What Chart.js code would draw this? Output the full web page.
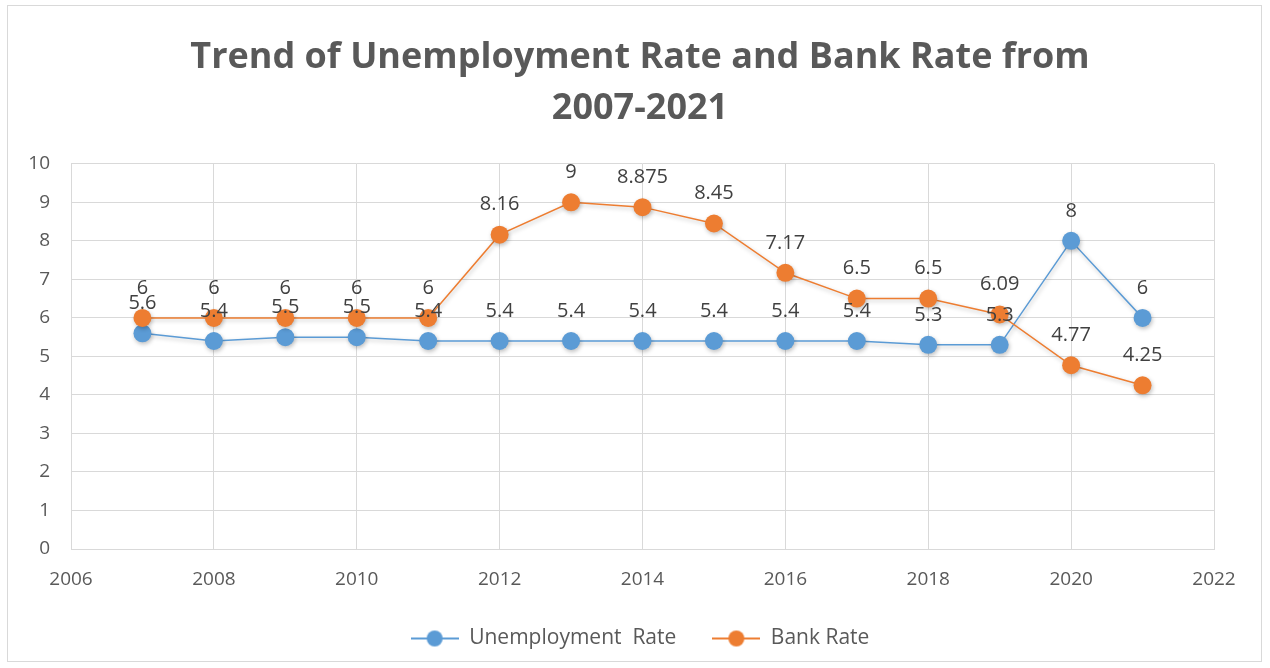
<!DOCTYPE html>
<html>
<head>
<meta charset="utf-8">
<script src="https://cdn.jsdelivr.net/npm/chart.js@4.4.1/dist/chart.umd.min.js"></script>
<style>
  html, body { margin: 0; padding: 0; background: #ffffff; }
  #wrap { position: absolute; left: 7px; top: 5px; width: 1255px; height: 657px; border: 1px solid #d9d9d9; box-sizing: border-box; }
  #chart { position: absolute; left: 0; top: 0; }
</style>
</head>
<body>
<div id="wrap"></div>
<canvas id="chart" width="1270" height="668"></canvas>
<script>
// Chart data
const years = [2007, 2008, 2009, 2010, 2011, 2012, 2013, 2014, 2015, 2016, 2017, 2018, 2019, 2020, 2021];
const unemploymentRate = [5.6, 5.4, 5.5, 5.5, 5.4, 5.4, 5.4, 5.4, 5.4, 5.4, 5.4, 5.3, 5.3, 8, 6];
const bankRate = [6, 6, 6, 6, 6, 8.16, 9, 8.875, 8.45, 7.17, 6.5, 6.5, 6.09, 4.77, 4.25];
const seriesNames = ['Unemployment  Rate', 'Bank Rate'];
const titleLines = ['Trend of Unemployment Rate and Bank Rate from', '2007-2021'];

const BLUE = '#5b9bd5';
const ORANGE = '#ed7d31';
const FONT = "'Open Sans', 'Liberation Sans', sans-serif";

// little legend swatch: line with a dot in the middle
function legendSwatch(color) {
    const c = document.createElement('canvas');
    c.width = 48; c.height = 20;
    const g = c.getContext('2d');
    g.strokeStyle = color; g.lineWidth = 2;
    g.beginPath(); g.moveTo(0, 10); g.lineTo(48, 10); g.stroke();
    g.fillStyle = color;
    g.beginPath(); g.arc(24, 10, 8, 0, Math.PI * 2); g.fill();
    return c;
}

// value labels above each marker (Excel style)
const valueLabels = {
    id: 'valueLabels',
    afterDatasetsDraw(chart) {
        const ctx = chart.ctx;
        ctx.save();
        ctx.font = '20px ' + FONT;
        ctx.fillStyle = '#404040';
        ctx.textAlign = 'center';
        ctx.textBaseline = 'middle';
        chart.data.datasets.forEach((ds, i) => {
            chart.getDatasetMeta(i).data.forEach((pt, j) => {
                ctx.fillText(String(ds.data[j].y), pt.x, pt.y - 30);
            });
        });
        ctx.restore();
    }
};

// soft shadow under lines and markers
const softShadow = {
    id: 'softShadow',
    beforeDatasetDraw(chart) {
        const ctx = chart.ctx;
        ctx.save();
        ctx.shadowColor = 'rgba(0,0,0,0.25)';
        ctx.shadowBlur = 4;
        ctx.shadowOffsetX = 1;
        ctx.shadowOffsetY = 2;
    },
    afterDatasetDraw(chart) {
        chart.ctx.restore();
    }
};

const toPoints = arr => arr.map((v, i) => ({ x: years[i], y: v }));

new Chart(document.getElementById('chart'), {
    type: 'line',
    data: {
        datasets: [
            { label: seriesNames[0], data: toPoints(unemploymentRate), borderColor: BLUE, backgroundColor: BLUE, borderWidth: 1.5, pointRadius: 9, pointBorderWidth: 0, pointBackgroundColor: BLUE, order: 2, swatch: legendSwatch(BLUE) },
            { label: seriesNames[1], data: toPoints(bankRate), borderColor: ORANGE, backgroundColor: ORANGE, borderWidth: 1.5, pointRadius: 9, pointBorderWidth: 0, pointBackgroundColor: ORANGE, order: 1, swatch: legendSwatch(ORANGE) }
        ]
    },
    options: {
        responsive: false,
        animation: false,
        layout: { padding: { left: 10, right: 0, top: 0, bottom: 9 } },
        scales: {
            x: {
                type: 'linear', min: 2006, max: 2022,
                ticks: { stepSize: 2, color: '#595959', font: { family: FONT, size: 19 }, padding: 19, callback: v => String(v) },
                grid: { color: '#d9d9d9', drawTicks: false },
                border: { color: '#d9d9d9' },
                afterFit: s => { s.height = 43; }
            },
            y: {
                min: 0, max: 10,
                ticks: { stepSize: 1, color: '#595959', font: { family: FONT, size: 19 }, padding: 21 },
                grid: { color: '#d9d9d9', drawTicks: false },
                border: { display: false },
                afterFit: s => { s.width = 61; }
            },
            // empty right-hand axis only to keep the plot's right edge where it is
            yRight: {
                position: 'right', min: 0, max: 10,
                ticks: { display: false },
                grid: { display: false },
                border: { display: false },
                afterFit: s => { s.width = 56; }
            }
        },
        plugins: {
            title: {
                display: true,
                text: titleLines,
                color: '#595959',
                font: { family: FONT, size: 36, weight: 'bold', lineHeight: 1.4 },
                padding: { top: 33, bottom: 30 }
            },
            legend: {
                position: 'bottom',
                labels: {
                    usePointStyle: true,
                    pointStyleWidth: 48,
                    color: '#595959',
                    font: { family: FONT, size: 21 },
                    padding: 36,
                    generateLabels: chart => chart.data.datasets.map((ds, i) => ({
                        text: ds.label, pointStyle: ds.swatch, fillStyle: ds.borderColor, strokeStyle: ds.borderColor,
                        lineWidth: 0, datasetIndex: i, hidden: false, fontColor: '#595959'
                    }))
                }
            },
            tooltip: { enabled: false }
        }
    },
    plugins: [softShadow, valueLabels]
});
</script>
</body>
</html>
